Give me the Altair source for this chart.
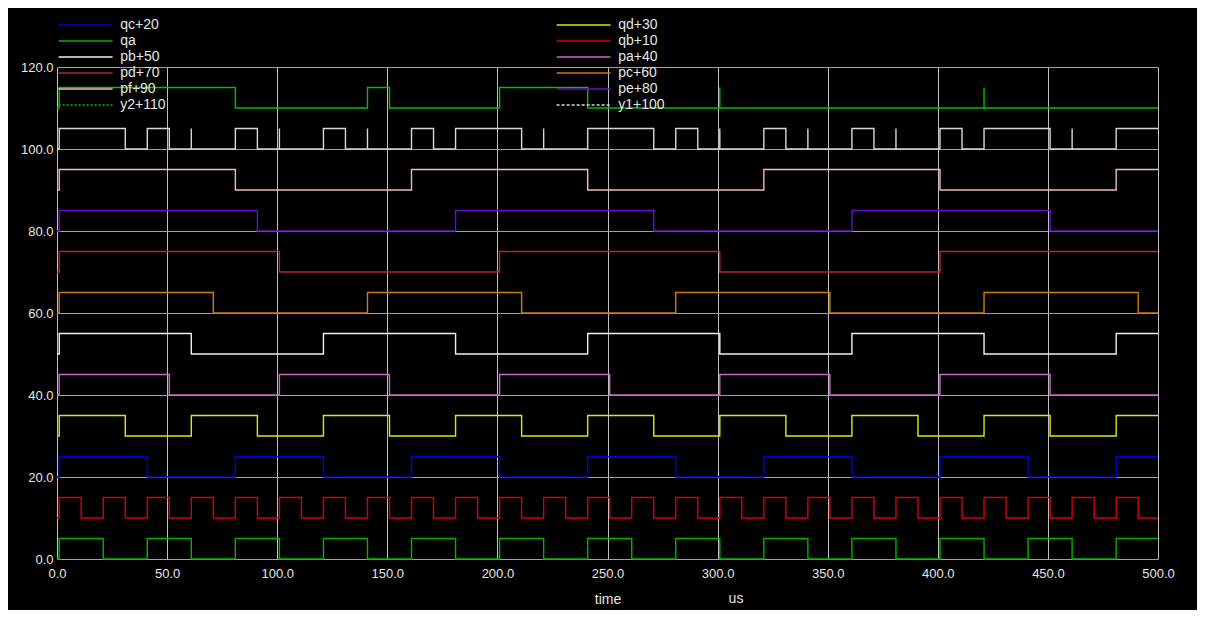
import altair as alt
import pandas as pd

# ---- legend / series order (column-major, two columns) ----
series_order = ["qc+20", "qa", "pb+50", "pd+70", "pf+90", "y2+110",
                "qd+30", "qb+10", "pa+40", "pc+60", "pe+80", "y1+100"]
series_colors = ["#0000d0", "#00b400", "#f0f0f0", "#b02828", "#f4b8c0", "#00c000",
                 "#e6e600", "#d80000", "#c868c8", "#d07c00", "#6a0dcc", "#d8d8d8"]
series_dash = [[1, 0], [1, 0], [1, 0], [1, 0], [1, 0], [2, 2],
               [1, 0], [1, 0], [1, 0], [1, 0], [1, 0], [3, 2]]
series_offset = [20, 0, 50, 70, 90, 110, 30, 10, 40, 60, 80, 100]
pulse_height = 5

# ---- transition times (us) of each signal; every time toggles the signal ----
qa_edges = [1, 21, 41, 61, 81, 101, 121, 141, 161, 181, 201, 221, 241, 261, 281,
            301, 321, 341, 361, 381, 401, 421, 441, 461, 481]
qb_edges = [1, 11, 21, 31, 41, 51, 61, 71, 81, 91, 101, 111, 121, 131, 141, 151,
            161, 171, 181, 191, 201, 211, 221, 231, 241, 251, 261, 271, 281, 291,
            301, 311, 321, 331, 341, 351, 361, 371, 381, 391, 401, 411, 421, 431,
            441, 451, 461, 471, 481, 491]
qc_edges = [1, 41, 81, 121, 161, 201, 241, 281, 321, 361, 401, 441, 481]
qd_edges = [1, 31, 61, 91, 121, 151, 181, 211, 241, 271, 301, 331, 361, 391, 421, 451, 481]
pa_edges = [1, 51, 101, 151, 201, 251, 301, 351, 401, 451]
pb_edges = [1, 61, 121, 181, 241, 301, 361, 421, 481]
pc_edges = [1, 71, 141, 211, 281, 351, 421, 491]
pd_edges = [1, 101, 201, 301, 401]
pe_edges = [1, 91, 181, 271, 361, 451]
pf_edges = [1, 81, 161, 241, 321, 401, 481]
y2_edges = [1, 81, 141, 151, 201, 241, 301, 301, 421, 421]
y1_edges = [1, 31, 41, 51, 61, 61, 81, 91, 101, 101, 121, 131, 141, 141, 161, 171,
            181, 211, 221, 221, 241, 271, 281, 291, 301, 301, 321, 331, 341, 341,
            361, 371, 381, 381, 401, 411, 421, 451, 461, 461, 481]

signal_edges = {
    "qc+20": qc_edges, "qd+30": qd_edges, "qa": qa_edges, "qb+10": qb_edges,
    "pb+50": pb_edges, "pa+40": pa_edges, "pd+70": pd_edges, "pc+60": pc_edges,
    "pf+90": pf_edges, "pe+80": pe_edges, "y2+110": y2_edges, "y1+100": y1_edges,
}

t_start, t_end = 0, 500
x_ticks = [0, 50, 100, 150, 200, 250, 300, 350, 400, 450, 500]
y_ticks = [0, 20, 40, 60, 80, 100, 120]
x_title = "time"
unit_label = ["us"]

rows = []
for name, off in zip(series_order, series_offset):
    bit = 0
    i = 0
    rows.append({"series": name, "t": t_start, "v": off, "i": i})
    for e in signal_edges[name]:
        bit ^= 1
        i += 1
        rows.append({"series": name, "t": e, "v": off + pulse_height * bit, "i": i})
    rows.append({"series": name, "t": t_end, "v": off + pulse_height * bit, "i": i + 1})
df = pd.DataFrame(rows)

txt = "#e6e6e6"
x_enc = alt.X("t:Q", scale=alt.Scale(domain=[t_start, t_end], nice=False, zero=False),
              axis=alt.Axis(values=x_ticks, format=".1f", title=x_title, grid=True,
                            gridColor="#c0c0c0", gridWidth=1, ticks=False, domain=False,
                            labelFlush=False,
                            labelColor=txt, labelFontSize=13, labelPadding=8,
                            titleColor=txt, titleFontSize=14, titleFontWeight="normal",
                            titleBaseline="alphabetic", titleY=44))
y_enc = alt.Y("v:Q", scale=alt.Scale(domain=[0, 120], nice=False),
              axis=alt.Axis(values=y_ticks, format=".1f", title=None, grid=True,
                            gridColor="#a0a0a0", gridWidth=1, ticks=False, domain=False,
                            labelFlush=False,
                            labelColor=txt, labelFontSize=13, labelPadding=4))

color_scale = alt.Scale(domain=series_order, range=series_colors)
dash_scale = alt.Scale(domain=series_order, range=series_dash)

def make_legend():
    return alt.Legend(title=None, orient="none", legendX=21.6, legendY=-49, columns=2,
                      columnPadding=388, rowPadding=2, symbolType="M-5,0H5",
                      symbolSize=116.6, symbolStrokeWidth=1.3, symbolOpacity=1,
                      labelFontSize=14, labelColor=txt, labelOffset=27.6, padding=0)

base = alt.Chart(df)

lines = base.mark_line(interpolate="step-after", strokeWidth=1.4).encode(
    x=x_enc, y=y_enc,
    color=alt.Color("series:N", scale=color_scale, legend=None),
    order=alt.Order("i:Q"),
)

legend_layer = base.transform_filter("datum.t < 0").mark_line(strokeWidth=1.4).encode(
    x=x_enc, y=y_enc,
    color=alt.Color("series:N", scale=color_scale, legend=make_legend()),
    strokeDash=alt.StrokeDash("series:N", scale=dash_scale, legend=make_legend()),
)

unit_text = alt.Chart(pd.DataFrame({"label": unit_label})).mark_text(
    align="center", baseline="alphabetic", fontSize=14, color=txt
).encode(text="label:N", x=alt.value(679), y=alt.value(536))

chart = alt.layer(legend_layer, lines, unit_text).properties(
    width=1101, height=492,
    padding={"left": 49, "top": 59, "right": 39, "bottom": 51},
    autosize="none",
).configure(
    background="black", font="Liberation Sans"
).configure_view(stroke=None)

chart.save("out.html", embed_options={"renderer": "svg", "actions": False})
